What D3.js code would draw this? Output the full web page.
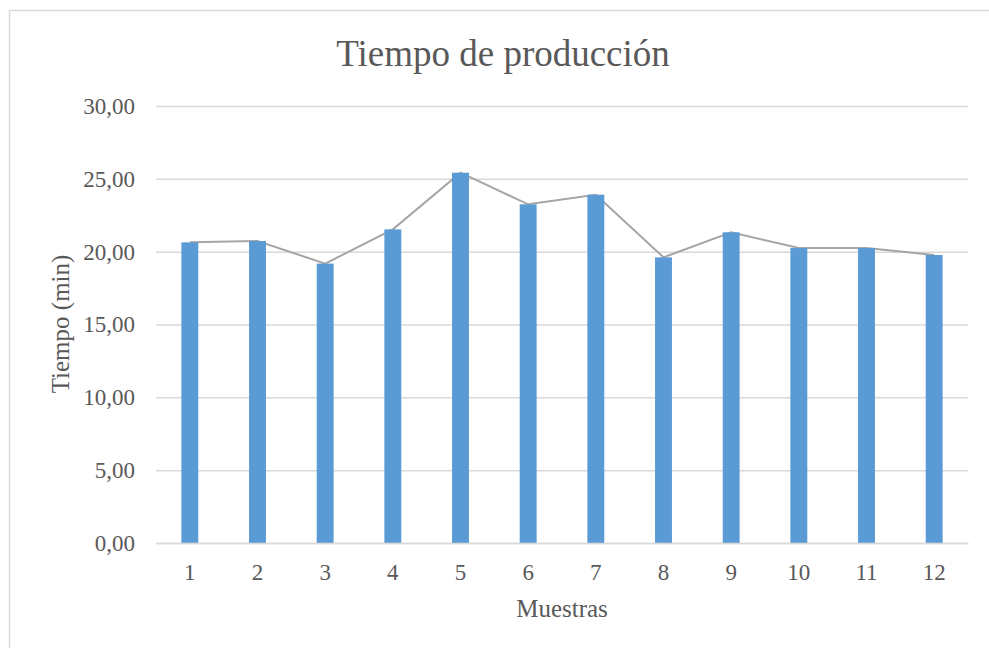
<!DOCTYPE html>
<html>
<head>
<meta charset="utf-8">
<script src="https://cdn.jsdelivr.net/npm/d3@7"></script>
<style>
  html, body { margin: 0; padding: 0; background: #fff; }
  svg { display: block; font-family: "Liberation Serif", "Times New Roman", serif; }
</style>
</head>
<body>
<svg id="chart" width="989" height="648"></svg>
<script>
// Production time per sample (minutes)
const muestras = ["1", "2", "3", "4", "5", "6", "7", "8", "9", "10", "11", "12"];
const tiempos = [20.64, 20.73, 19.18, 21.53, 25.42, 23.25, 23.91, 19.61, 21.33, 20.25, 20.25, 19.77];
const yTicks = [0, 5, 10, 15, 20, 25, 30];

const svg = d3.select("#chart");
const W = 989, H = 648;
const plot = { left: 156, right: 968, top: 106, bottom: 543 };

// chart frame (only top and left edges fall inside the view)
svg.append("rect")
  .attr("x", 9.5).attr("y", 10.5)
  .attr("width", W + 20).attr("height", H + 20)
  .attr("fill", "#fff").attr("stroke", "#d9d9d9").attr("stroke-width", 1.5);

const x = d3.scaleBand().domain(muestras).range([plot.left, plot.right]).padding(0);
const y = d3.scaleLinear().domain([0, 30]).range([plot.bottom, plot.top]);
const barW = x.bandwidth() * 0.25;

// gridlines + y labels
const yAxis = d3.axisLeft(y).tickValues(yTicks)
  .tickFormat(d => d3.format(".2f")(d).replace(".", ","))
  .tickSize(-(plot.right - plot.left)).tickPadding(21);
const gy = svg.append("g").attr("transform", `translate(${plot.left},0)`).call(yAxis);
gy.select(".domain").remove();
gy.selectAll(".tick line").attr("stroke", "#d9d9d9").attr("stroke-width", 1.5);
gy.selectAll(".tick text").attr("fill", "#595959").attr("font-size", 23)
  .attr("font-family", "Liberation Serif, Times New Roman, serif");

// line through the sample values (drawn under the bars)
const line = d3.line()
  .x((d, i) => x(muestras[i]) + x.bandwidth() / 2)
  .y(d => y(d));
svg.append("path").datum(tiempos)
  .attr("d", line).attr("fill", "none")
  .attr("stroke", "#a5a5a5").attr("stroke-width", 2);

// bars
svg.append("g").selectAll("rect").data(tiempos).join("rect")
  .attr("x", (d, i) => x(muestras[i]) + x.bandwidth() / 2 - barW / 2)
  .attr("y", d => y(d))
  .attr("width", barW)
  .attr("height", d => y(0) - y(d))
  .attr("fill", "#5b9bd5");

// x axis
const xAxis = d3.axisBottom(x).tickSize(0).tickPadding(21);
const gx = svg.append("g").attr("transform", `translate(0,${plot.bottom})`).call(xAxis);
gx.select(".domain").attr("stroke", "#d9d9d9").attr("stroke-width", 1.5);
gx.selectAll(".tick text").attr("fill", "#595959").attr("font-size", 23)
  .attr("font-family", "Liberation Serif, Times New Roman, serif");

// title
svg.append("text")
  .attr("x", 503).attr("y", 65.5)
  .attr("text-anchor", "middle")
  .attr("fill", "#595959").attr("font-size", 37)
  .text("Tiempo de producción");

// axis titles
svg.append("text")
  .attr("x", 562).attr("y", 617)
  .attr("text-anchor", "middle")
  .attr("fill", "#595959").attr("font-size", 25)
  .text("Muestras");

svg.append("text")
  .attr("transform", "translate(69,324) rotate(-90)")
  .attr("text-anchor", "middle")
  .attr("fill", "#595959").attr("font-size", 25)
  .text("Tiempo (min)");
</script>
</body>
</html>
